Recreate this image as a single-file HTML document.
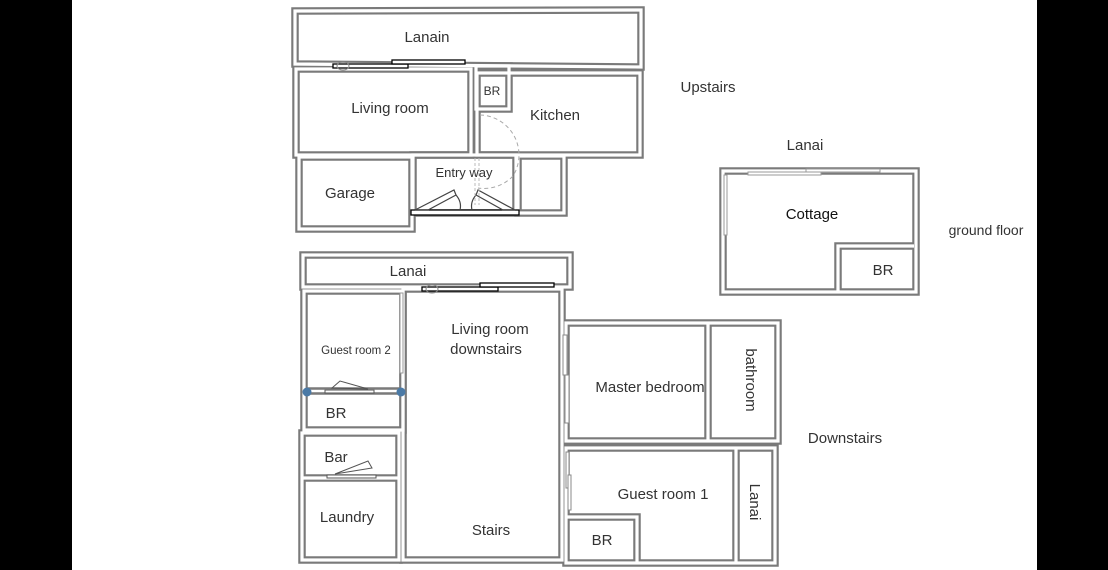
<!DOCTYPE html>
<html><head><meta charset="utf-8"><style>
html,body{margin:0;padding:0;background:#000;}
svg{display:block}
text{font-family:"Liberation Sans",sans-serif;fill:#333;}
.w{fill:none;stroke:#7a7a7a;stroke-width:7.5}
.wi{fill:none;stroke:#fff;stroke-width:3.2}
.d{fill:#fff;stroke:#000;stroke-width:1.3}
.n{fill:none;stroke:#444;stroke-width:1.2}
</style></head><body>
<svg width="1108" height="570" viewBox="0 0 1108 570" xmlns="http://www.w3.org/2000/svg">
<rect x="0" y="0" width="1108" height="570" fill="#000"/>
<rect x="72" y="0" width="965" height="570" fill="#fff"/>
<g class="w">
<polygon points="295,11 641,10 641,67 295,64"/>
<rect x="296" y="69" width="175" height="86"/>
<rect x="477" y="73" width="163" height="82"/>
<rect x="476" y="66" width="33" height="43"/>
<rect x="299" y="157" width="113" height="72"/>
<rect x="413" y="155" width="103" height="58"/>
<rect x="518" y="156" width="46" height="57"/>
<rect x="723" y="171" width="193" height="121"/>
<polyline points="838,292 838,246 914,246"/>
<rect x="303" y="255" width="267" height="32"/>
<rect x="304" y="291" width="99" height="139"/>
<line x1="304" y1="391" x2="403" y2="391"/>
<rect x="302" y="433" width="97" height="127"/>
<line x1="302" y1="478" x2="399" y2="478"/>
<rect x="403" y="289" width="159" height="271"/>
<rect x="566" y="323" width="212" height="118"/>
<line x1="708" y1="323" x2="708" y2="441"/>
<rect x="566" y="448" width="209" height="115"/>
<line x1="736" y1="448" x2="736" y2="563"/>
<polyline points="566,517 637,517 637,563"/>
</g>
<g class="wi">
<polygon points="295,11 641,10 641,67 295,64"/>
<rect x="296" y="69" width="175" height="86"/>
<rect x="477" y="73" width="163" height="82"/>
<rect x="476" y="66" width="33" height="43"/>
<rect x="299" y="157" width="113" height="72"/>
<rect x="413" y="155" width="103" height="58"/>
<rect x="518" y="156" width="46" height="57"/>
<rect x="723" y="171" width="193" height="121"/>
<polyline points="838,292 838,246 914,246"/>
<rect x="303" y="255" width="267" height="32"/>
<rect x="304" y="291" width="99" height="139"/>
<line x1="304" y1="391" x2="403" y2="391"/>
<rect x="302" y="433" width="97" height="127"/>
<line x1="302" y1="478" x2="399" y2="478"/>
<rect x="403" y="289" width="159" height="271"/>
<rect x="566" y="323" width="212" height="118"/>
<line x1="708" y1="323" x2="708" y2="441"/>
<rect x="566" y="448" width="209" height="115"/>
<line x1="736" y1="448" x2="736" y2="563"/>
<polyline points="566,517 637,517 637,563"/>
</g>
<rect class="d" x="333" y="64" width="75" height="4"/>
<rect class="d" x="392" y="60" width="73" height="4"/>
<ellipse cx="343" cy="66" rx="6" ry="4" fill="none" stroke="#888"/>
<rect class="d" x="422" y="287" width="76" height="4"/>
<rect class="d" x="480" y="283" width="74" height="4"/>
<ellipse cx="432" cy="289" rx="6" ry="4" fill="none" stroke="#888"/>
<rect x="748" y="172" width="73" height="3" fill="#fff" stroke="#999"/>
<rect x="806" y="169" width="74" height="3" fill="#fff" stroke="#999"/>
<rect class="d" x="411" y="210" width="108" height="5"/>
<polygon class="n" points="415,210 454,190 456,195 428,210" fill="#fff"/>
<polygon class="n" points="515,210 478,190 476,195 503,210" fill="#fff"/>
<path class="n" d="M456,195 Q462,202 460,210"/>
<path class="n" d="M476,195 Q470,202 472,210"/>
<path d="M480,115 A40,40 0 0 1 513,176 A40,40 0 0 1 478,188" fill="none" stroke="#aaa" stroke-dasharray="4,3"/>
<line x1="475" y1="158" x2="475" y2="205" stroke="#bbb" stroke-dasharray="3,2"/>
<line x1="479" y1="158" x2="479" y2="205" stroke="#bbb" stroke-dasharray="3,2"/>
<line x1="306" y1="391" x2="401" y2="391" stroke="#999" stroke-width="4"/>
<line x1="306" y1="391" x2="401" y2="391" stroke="#fff" stroke-width="2"/>
<rect x="325" y="390" width="49" height="3" fill="#fff" stroke="#555"/>
<polygon points="332,388 340,381 368,389" fill="none" stroke="#555"/>
<circle cx="307" cy="392" r="4.5" fill="#4b7aa6"/>
<circle cx="401" cy="392" r="4.5" fill="#4b7aa6"/>
<rect x="327" y="475" width="49" height="3" fill="#fff" stroke="#555"/>
<polygon points="335,474 368,461 372,468" fill="none" stroke="#555"/>
<rect x="563" y="335" width="4" height="40" fill="#fff" stroke="#888"/>
<rect x="565" y="375" width="4" height="48" fill="#fff" stroke="#888"/>
<rect x="566" y="452" width="3" height="36" fill="#fff" stroke="#888"/>
<rect x="568" y="475" width="3" height="35" fill="#fff" stroke="#888"/>
<rect x="400" y="293" width="3" height="80" fill="#fff" stroke="#999"/>
<rect x="724" y="175" width="3" height="60" fill="#fff" stroke="#999"/>
<text x="427" y="42" font-size="15" text-anchor="middle">Lanain</text>
<text x="390" y="113" font-size="15" text-anchor="middle">Living room</text>
<text x="492" y="95" font-size="12" text-anchor="middle">BR</text>
<text x="555" y="120" font-size="15" text-anchor="middle">Kitchen</text>
<text x="350" y="198" font-size="15" text-anchor="middle">Garage</text>
<text x="464" y="177" font-size="13" text-anchor="middle">Entry way</text>
<text x="708" y="92" font-size="15" text-anchor="middle">Upstairs</text>
<text x="805" y="150" font-size="15" text-anchor="middle">Lanai</text>
<text x="812" y="219" font-size="15" text-anchor="middle" style="fill:#111">Cottage</text>
<text x="883" y="275" font-size="15" text-anchor="middle">BR</text>
<text x="986" y="235" font-size="14" text-anchor="middle">ground floor</text>
<text x="408" y="276" font-size="15" text-anchor="middle">Lanai</text>
<text x="356" y="354" font-size="11.5" text-anchor="middle">Guest room 2</text>
<text x="336" y="418" font-size="15" text-anchor="middle">BR</text>
<text x="336" y="462" font-size="15" text-anchor="middle">Bar</text>
<text x="347" y="522" font-size="15" text-anchor="middle">Laundry</text>
<text x="490" y="334" font-size="15" text-anchor="middle">Living room</text>
<text x="486" y="354" font-size="15" text-anchor="middle">downstairs</text>
<text x="491" y="535" font-size="15" text-anchor="middle">Stairs</text>
<text x="650" y="392" font-size="15" text-anchor="middle">Master bedroom</text>
<text x="0" y="0" font-size="15" text-anchor="middle" transform="translate(746,380) rotate(90)">bathroom</text>
<text x="663" y="499" font-size="15" text-anchor="middle">Guest room 1</text>
<text x="0" y="0" font-size="15" text-anchor="middle" transform="translate(750,502) rotate(90)">Lanai</text>
<text x="602" y="545" font-size="15" text-anchor="middle">BR</text>
<text x="845" y="443" font-size="15" text-anchor="middle">Downstairs</text>
</svg>
</body></html>
